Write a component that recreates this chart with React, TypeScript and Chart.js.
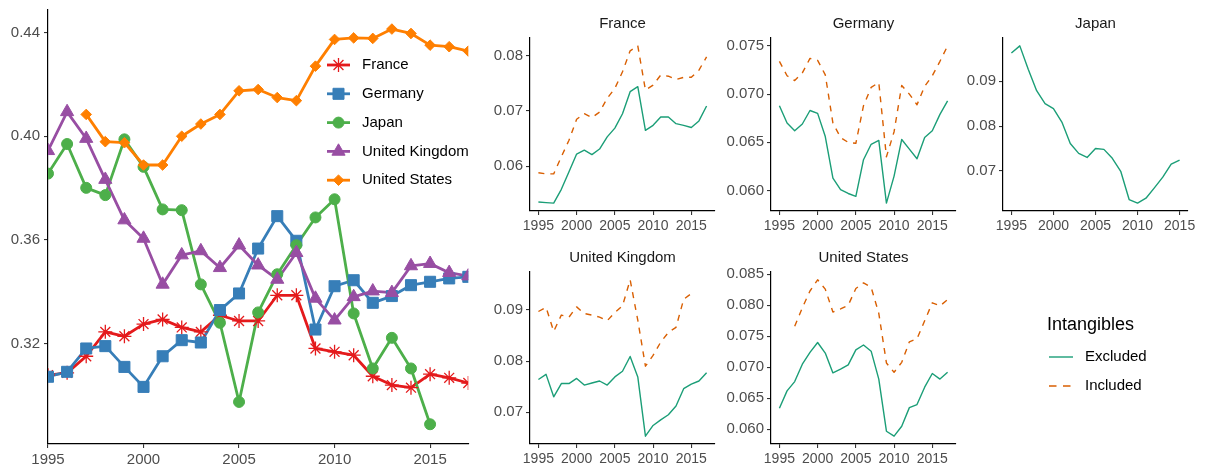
import React, { useEffect, useRef } from 'react';
import { Chart, registerables } from 'chart.js';
import { drawPoint } from 'chart.js/helpers';

Chart.register(...registerables);

const FONT = "'Liberation Sans', Arial, sans-serif";
Chart.defaults.font.family = FONT;

// ---------- data ----------
const years = [1995, 1996, 1997, 1998, 1999, 2000, 2001, 2002, 2003, 2004, 2005, 2006, 2007, 2008, 2009, 2010, 2011, 2012, 2013, 2014, 2015, 2016, 2017];
const japanYears = [1995, 1996, 1997, 1998, 1999, 2000, 2001, 2002, 2003, 2004, 2005, 2006, 2007, 2008, 2009, 2010, 2011, 2012, 2013, 2014, 2015];

const countries = ['France', 'Germany', 'Japan', 'United Kingdom', 'United States'];

const franceShare = [0.3079, 0.3088, 0.3152, 0.3246, 0.3229, 0.3276, 0.3294, 0.3263, 0.3246, 0.3310, 0.3288, 0.3288, 0.3387, 0.3387, 0.3182, 0.3169, 0.3156, 0.3075, 0.3041, 0.3031, 0.3083, 0.3069, 0.3049];
const germanyShare = [0.3073, 0.3092, 0.3182, 0.3191, 0.3111, 0.3034, 0.3152, 0.3214, 0.3205, 0.3330, 0.3394, 0.3567, 0.3692, 0.3597, 0.3255, 0.3422, 0.3445, 0.3358, 0.3384, 0.3426, 0.3439, 0.3452, 0.3458];
const japanShare = [0.3856, 0.3970, 0.3801, 0.3773, 0.3988, 0.3882, 0.3718, 0.3715, 0.3429, 0.3281, 0.2976, 0.3321, 0.3468, 0.3580, 0.3687, 0.3757, 0.3317, 0.3105, 0.3223, 0.3105, 0.2890, null, null];
const ukShare = [0.3944, 0.4094, 0.3991, 0.3833, 0.3677, 0.3606, 0.3429, 0.3542, 0.3558, 0.3493, 0.3580, 0.3503, 0.3448, 0.3551, 0.3375, 0.3291, 0.3381, 0.3403, 0.3397, 0.3500, 0.3509, 0.3474, 0.3461];
const usShare = [null, null, 0.4084, 0.3979, 0.3975, 0.3889, 0.3889, 0.4000, 0.4047, 0.4084, 0.4175, 0.4180, 0.4149, 0.4137, 0.4270, 0.4373, 0.4379, 0.4377, 0.4413, 0.4396, 0.4351, 0.4345, 0.4328];

const franceExcluded = [0.0535, 0.0534, 0.0533, 0.0558, 0.0590, 0.0622, 0.0629, 0.0621, 0.0631, 0.0653, 0.0669, 0.0695, 0.0735, 0.0744, 0.0665, 0.0674, 0.0689, 0.0689, 0.0677, 0.0674, 0.0670, 0.0682, 0.0709];
const franceIncluded = [0.0588, 0.0586, 0.0586, 0.0617, 0.0647, 0.0685, 0.0695, 0.0688, 0.0698, 0.0723, 0.0741, 0.0771, 0.0809, 0.0818, 0.0738, 0.0747, 0.0765, 0.0763, 0.0757, 0.0761, 0.0761, 0.0774, 0.0798];
const germanyExcluded = [0.0688, 0.0670, 0.0662, 0.0669, 0.0683, 0.0680, 0.0656, 0.0613, 0.0601, 0.0597, 0.0594, 0.0632, 0.0648, 0.0652, 0.0587, 0.0615, 0.0653, 0.0643, 0.0633, 0.0655, 0.0662, 0.0679, 0.0693];
const germanyIncluded = [0.0734, 0.0719, 0.0714, 0.0722, 0.0737, 0.0735, 0.0720, 0.0670, 0.0655, 0.0650, 0.0649, 0.0688, 0.0707, 0.0712, 0.0635, 0.0661, 0.0709, 0.0700, 0.0689, 0.0708, 0.0719, 0.0734, 0.0750];
const japanExcluded = [0.0963, 0.0979, 0.0927, 0.0879, 0.0850, 0.0839, 0.0809, 0.0761, 0.0739, 0.0730, 0.0750, 0.0748, 0.0728, 0.0699, 0.0636, 0.0628, 0.0639, 0.0662, 0.0686, 0.0715, 0.0724];
const ukExcluded = [0.0764, 0.0774, 0.0730, 0.0756, 0.0756, 0.0766, 0.0753, 0.0757, 0.0761, 0.0753, 0.0769, 0.0780, 0.0809, 0.0769, 0.0653, 0.0674, 0.0685, 0.0695, 0.0712, 0.0746, 0.0755, 0.0761, 0.0777];
const ukIncluded = [0.0897, 0.0905, 0.0858, 0.0890, 0.0886, 0.0906, 0.0893, 0.0890, 0.0886, 0.0879, 0.0895, 0.0908, 0.0959, 0.0880, 0.0790, 0.0811, 0.0837, 0.0856, 0.0866, 0.0921, 0.0932, null, null];
const usExcluded = [0.0634, 0.0662, 0.0677, 0.0705, 0.0724, 0.0740, 0.0723, 0.0691, 0.0697, 0.0704, 0.0728, 0.0736, 0.0726, 0.0681, 0.0597, 0.0589, 0.0605, 0.0635, 0.0640, 0.0668, 0.0690, 0.0681, 0.0692];
const usIncluded = [null, null, 0.0766, 0.0796, 0.0823, 0.0841, 0.0826, 0.0789, 0.0794, 0.0800, 0.0827, 0.0836, 0.0829, 0.0787, 0.0707, 0.0692, 0.0708, 0.0741, 0.0746, 0.0775, 0.0804, 0.0799, 0.0809];

const legendTitle = 'Intangibles';
const seriesNames = ['Excluded', 'Included'];

const xTickYears = [1995, 2000, 2005, 2010, 2015];
const mainYTicks = [0.32, 0.36, 0.40, 0.44];
const franceYTicks = [0.06, 0.07, 0.08];
const germanyYTicks = [0.060, 0.065, 0.070, 0.075];
const japanYTicks = [0.07, 0.08, 0.09];
const ukYTicks = [0.07, 0.08, 0.09];
const usYTicks = [0.060, 0.065, 0.070, 0.075, 0.080, 0.085];

// ---------- styles ----------
const countryColors = ['#E41A1C', '#377EB8', '#4DAF4A', '#984EA3', '#FF7F00'];
const pointStyles = ['star', 'rect', 'circle', 'triangle', 'rectRot'];
const pointRadii = [7, 7.8, 5.5, 7.6, 5.3];
const pointBorders = [1.3, 1, 1, 1, 1];
const EXC_COLOR = '#1B9E77';
const INC_COLOR = '#D95F02';
const TICK_COLOR = '#4D4D4D';

type Val = number | null;

function expandRange(vals: number[], frac = 0.05): [number, number] {
  const lo = Math.min(...vals);
  const hi = Math.max(...vals);
  const pad = (hi - lo) * frac;
  return [lo - pad, hi + pad];
}

function toPoints(xs: number[], ys: Val[]) {
  return xs.map((x, i) => ({ x, y: ys[i] })).filter((p) => p.y != null) as { x: number; y: number }[];
}

const axisGrid = {
  display: true,
  drawOnChartArea: false,
  drawTicks: true,
  tickLength: 4,
  color: '#333333',
  tickColor: '#333333',
  lineWidth: 1.1,
};
const axisBorder = { display: true, color: '#000000', width: 1.2 };

// ---------- main chart ----------
const mainLegendPlugin = {
  id: 'mainLegend',
  afterDatasetsDraw(chart: any) {
    const ctx = chart.ctx as CanvasRenderingContext2D;
    const a = chart.chartArea;
    ctx.save();
    countries.forEach((name, i) => {
      const y = a.top + 55.7 + i * 28.8;
      const x0 = a.left + 279;
      ctx.setLineDash([]);
      ctx.strokeStyle = countryColors[i];
      ctx.lineWidth = 2.8;
      ctx.beginPath();
      ctx.moveTo(x0, y);
      ctx.lineTo(x0 + 23, y);
      ctx.stroke();
      ctx.fillStyle = countryColors[i];
      ctx.strokeStyle = countryColors[i];
      ctx.lineWidth = pointBorders[i];
      drawPoint(ctx, { pointStyle: pointStyles[i] as any, radius: pointRadii[i], rotation: 0, borderWidth: pointBorders[i] } as any, x0 + 11.5, y);
      ctx.fillStyle = '#000000';
      ctx.font = `15px ${FONT}`;
      ctx.textAlign = 'left';
      ctx.textBaseline = 'middle';
      ctx.fillText(name, x0 + 35, y);
    });
    ctx.restore();
  },
};

function MainChart() {
  const ref = useRef<HTMLCanvasElement>(null);
  const W = 480;
  const H = 466;
  useEffect(() => {
    const series: Val[][] = [franceShare, germanyShare, japanShare, ukShare, usShare];
    const all = series.flat().filter((v) => v != null) as number[];
    const [ymin, ymax] = expandRange(all);
    const lineSets = series.map((vals, i) => ({
      label: countries[i],
      data: toPoints(years, vals),
      borderColor: countryColors[i],
      backgroundColor: countryColors[i],
      borderWidth: 2.8,
      borderJoinStyle: 'round' as const,
      pointRadius: 0,
      tension: 0,
      clip: 0,
      order: 20 - i,
    }));
    const pointSets = series.map((vals, i) => ({
      label: countries[i] + ' points',
      data: toPoints(years, vals),
      showLine: false,
      pointStyle: pointStyles[i] as any,
      pointRadius: pointRadii[i],
      pointBackgroundColor: countryColors[i],
      pointBorderColor: countryColors[i],
      pointBorderWidth: pointBorders[i],
      borderColor: countryColors[i],
      clip: 0,
      order: 10 - i,
    }));
    const chart = new Chart(ref.current as HTMLCanvasElement, {
      type: 'line',
      data: { datasets: [...lineSets, ...pointSets] as any },
      options: {
        animation: false,
        responsive: false,
        devicePixelRatio: 1,
        events: [],
        layout: { padding: { top: 9.3, right: 11.7, left: 0, bottom: 0 } },
        plugins: { legend: { display: false }, tooltip: { enabled: false }, title: { display: false } },
        scales: {
          x: {
            type: 'linear',
            min: years[0],
            max: years[years.length - 1],
            afterBuildTicks: (s: any) => { s.ticks = xTickYears.map((v) => ({ value: v })); },
            afterFit: (s: any) => { s.height = 22; },
            ticks: { autoSkip: false, maxRotation: 0, padding: 3, color: TICK_COLOR, font: { size: 15 }, callback: (v: any) => String(v) },
            grid: axisGrid,
            border: axisBorder,
          },
          y: {
            type: 'linear',
            min: ymin,
            max: ymax,
            afterBuildTicks: (s: any) => { s.ticks = mainYTicks.map((v) => ({ value: v })); },
            afterFit: (s: any) => { s.width = 48; s.paddingTop = 0; s.paddingBottom = 0; },
            ticks: { padding: 4, color: TICK_COLOR, font: { size: 15 }, callback: (v: any) => Number(v).toFixed(2) },
            grid: axisGrid,
            border: axisBorder,
          },
        },
      } as any,
      plugins: [mainLegendPlugin],
    });
    return () => chart.destroy();
  }, []);
  return <canvas ref={ref} width={W} height={H} style={{ position: 'absolute', left: 0, top: 0, width: W, height: H }} />;
}

// ---------- facet charts ----------
function intangiblesLegend(offX: number, offY: number) {
  return {
    id: 'intangiblesLegend',
    afterDraw(chart: any) {
      const ctx = chart.ctx as CanvasRenderingContext2D;
      ctx.save();
      ctx.textAlign = 'left';
      ctx.textBaseline = 'middle';
      ctx.fillStyle = '#000000';
      ctx.font = `18px ${FONT}`;
      ctx.fillText(legendTitle, 1047 - offX, 325 - offY);
      chart.data.datasets.forEach((ds: any, i: number) => {
        const y = 357 + i * 29 - offY;
        ctx.strokeStyle = ds.borderColor;
        ctx.lineWidth = ds.borderWidth;
        ctx.setLineDash(ds.borderDash && ds.borderDash.length ? [7.5, 6.5] : []);
        ctx.beginPath();
        ctx.moveTo(1049 - offX, y);
        ctx.lineTo(1073 - offX, y);
        ctx.stroke();
        ctx.setLineDash([]);
        ctx.fillStyle = '#000000';
        ctx.font = `15px ${FONT}`;
        ctx.fillText(ds.label, 1085 - offX, y);
      });
      ctx.restore();
    },
  };
}

type FacetProps = {
  title: string;
  xYears: number[];
  excluded: Val[];
  included?: Val[];
  yTicks: number[];
  decimals: number;
  area: [number, number, number, number];
  withLegend?: boolean;
};

function FacetChart(p: FacetProps) {
  const ref = useRef<HTMLCanvasElement>(null);
  const Y_W = 55;
  const TOP = 38;
  const X_H = 22;
  const RIGHT = 17;
  const [L, T, R, B] = p.area;
  const left = L - Y_W;
  const top = T - TOP;
  const width = (p.withLegend ? 1205 : R + RIGHT) - left;
  const height = B + X_H - top;
  const padRight = left + width - R;
  useEffect(() => {
    const vals = [...p.excluded, ...(p.included || [])].filter((v) => v != null) as number[];
    const [ymin, ymax] = expandRange(vals);
    const [xmin, xmax] = expandRange(p.xYears);
    const datasets: any[] = [
      {
        label: seriesNames[0],
        data: toPoints(p.xYears, p.excluded),
        borderColor: EXC_COLOR,
        backgroundColor: EXC_COLOR,
        borderWidth: 1.4,
        borderJoinStyle: 'round',
        pointRadius: 0,
        tension: 0,
        order: 1,
      },
    ];
    if (p.included) {
      datasets.push({
        label: seriesNames[1],
        data: toPoints(p.xYears, p.included),
        borderColor: INC_COLOR,
        backgroundColor: INC_COLOR,
        borderWidth: 1.4,
        borderDash: [6, 6],
        borderJoinStyle: 'round',
        pointRadius: 0,
        tension: 0,
        order: 0,
      });
    }
    const titleFont = 15;
    const titlePadBottom = 5;
    const chart = new Chart(ref.current as HTMLCanvasElement, {
      type: 'line',
      data: { datasets },
      options: {
        animation: false,
        responsive: false,
        devicePixelRatio: 1,
        events: [],
        layout: { padding: { top: TOP - (titleFont * 1.2 + titlePadBottom), right: padRight, left: 0, bottom: 0 } },
        plugins: {
          legend: { display: false },
          tooltip: { enabled: false },
          title: {
            display: true,
            text: p.title,
            fullSize: false,
            color: '#1A1A1A',
            font: { size: titleFont, weight: 'normal' },
            padding: { top: 0, bottom: titlePadBottom },
          },
        },
        scales: {
          x: {
            type: 'linear',
            min: xmin,
            max: xmax,
            afterBuildTicks: (s: any) => { s.ticks = xTickYears.map((v) => ({ value: v })); },
            afterFit: (s: any) => { s.height = X_H; },
            ticks: { autoSkip: false, maxRotation: 0, padding: 3, color: TICK_COLOR, font: { size: 14 }, callback: (v: any) => String(v) },
            grid: axisGrid,
            border: axisBorder,
          },
          y: {
            type: 'linear',
            min: ymin,
            max: ymax,
            afterBuildTicks: (s: any) => { s.ticks = p.yTicks.map((v) => ({ value: v })); },
            afterFit: (s: any) => { s.width = Y_W; },
            ticks: { padding: 3, color: TICK_COLOR, font: { size: 15 }, callback: (v: any) => Number(v).toFixed(p.decimals) },
            grid: axisGrid,
            border: axisBorder,
          },
        },
      } as any,
      plugins: p.withLegend ? [intangiblesLegend(left, top)] : [],
    });
    return () => chart.destroy();
  }, []);
  return <canvas ref={ref} width={width} height={height} style={{ position: 'absolute', left, top, width, height }} />;
}

export default function App() {
  return (
    <div style={{ position: 'absolute', left: 0, top: 0, width: 1205, height: 466, overflow: 'hidden', background: '#ffffff' }}>
      <MainChart />
      <FacetChart title={countries[0]} xYears={years} excluded={franceExcluded} included={franceIncluded} yTicks={franceYTicks} decimals={2} area={[530, 38, 715, 211]} />
      <FacetChart title={countries[1]} xYears={years} excluded={germanyExcluded} included={germanyIncluded} yTicks={germanyYTicks} decimals={3} area={[771, 38, 956, 211]} />
      <FacetChart title={countries[2]} xYears={japanYears} excluded={japanExcluded} yTicks={japanYTicks} decimals={2} area={[1003, 38, 1188, 211]} />
      <FacetChart title={countries[3]} xYears={years} excluded={ukExcluded} included={ukIncluded} yTicks={ukYTicks} decimals={2} area={[530, 272, 715, 444]} />
      <FacetChart title={countries[4]} xYears={years} excluded={usExcluded} included={usIncluded} yTicks={usYTicks} decimals={3} area={[771, 272, 956, 444]} withLegend />
    </div>
  );
}
